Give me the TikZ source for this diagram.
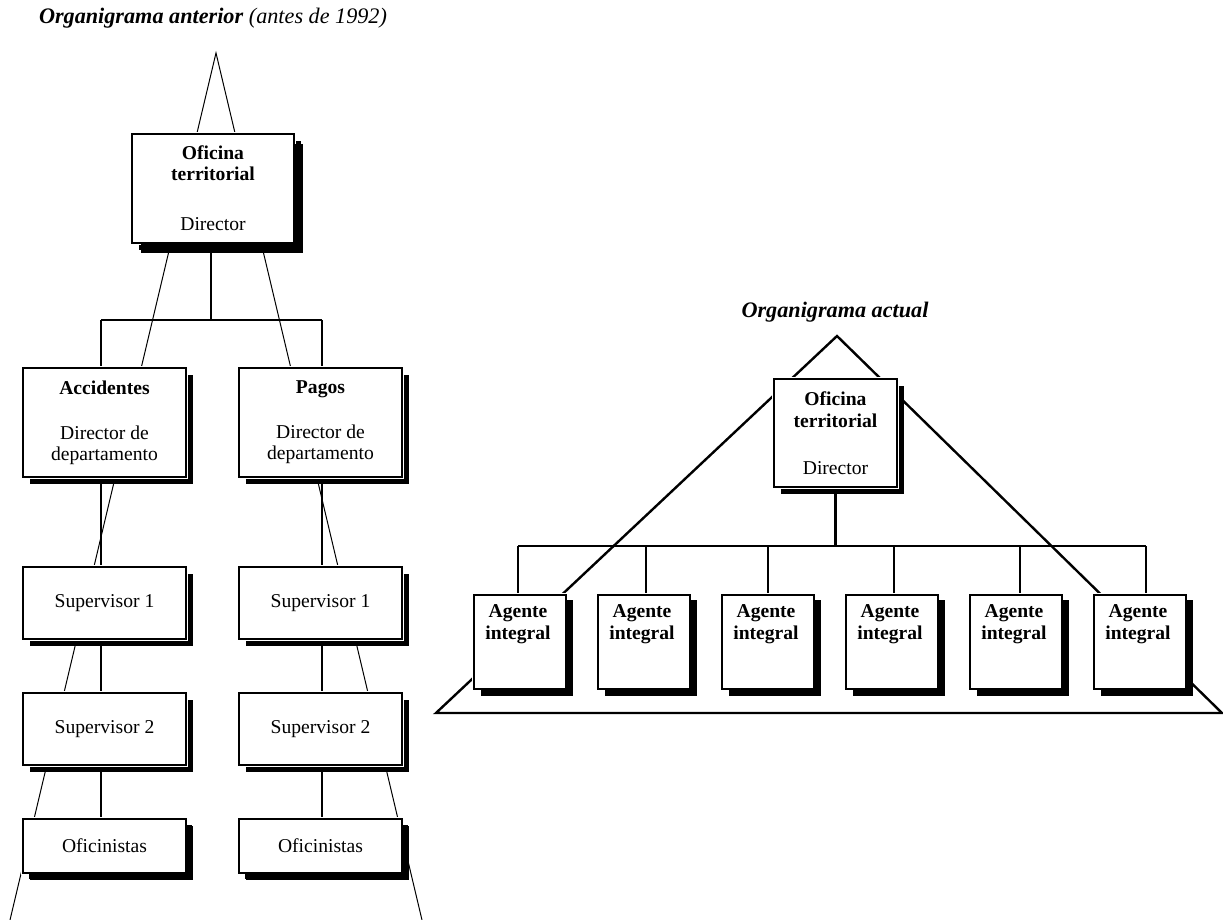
\documentclass[tikz,border=0pt]{standalone}
\usepackage{fontspec}
\setmainfont{Liberation Serif}
\usetikzlibrary{shadows,backgrounds}
\begin{document}
\begin{tikzpicture}[x=0.5pt,y=-0.5pt,
  box/.style={draw=black, line width=1pt, fill=white, inner sep=0pt, outer sep=0pt,
    align=center, font=\fontsize{9.8}{10.5}\selectfont,
    general shadow={fill=black, shadow xshift=3.5pt, shadow yshift=-3.5pt},
    preaction={draw=white, line width=2.4pt}},
  bigbox/.style={box, general shadow={fill=black, shadow xshift=4.5pt, shadow yshift=-5pt}},
  agbox/.style={box, line width=1.1pt, minimum width=46pt, minimum height=47pt},
  lbox/.style={box, minimum width=81.5pt},
  boxtext/.style={inner sep=0pt, align=center, font=\fontsize{9.8}{11}\selectfont\bfseries},
  title/.style={inner sep=0pt, font=\fontsize{11.1}{13}\selectfont},
  thin/.style={line width=0.5pt},
  connL/.style={line width=1pt},
  connR/.style={line width=1.3pt},
  tri/.style={line width=1.2pt, line join=miter}
]
\useasboundingbox (0,0) rectangle (1223,920);

% ---------- left chart ----------
\node[title] (t1) at (213,18) {\textbf{\textit{Organigrama anterior}} \textit{(antes de 1992)}};

\node[bigbox, minimum width=81pt, minimum height=54.5pt] (ofL) at (213,188.5)
  {\textbf{Oficina}\\\textbf{territorial}\\[14.5pt]Director};
\node[lbox, minimum height=54.5pt] (acc) at (104.5,422.5)
  {\textbf{Accidentes}\\[12pt]Director de\\departamento};
\node[lbox, minimum height=54.5pt] (pag) at (320.5,422.5)
  {\textbf{Pagos}\\[12pt]Director de\\departamento};
\node[lbox, minimum height=36pt] (s1a) at (104.5,603) {Supervisor 1};
\node[lbox, minimum height=36pt] (s1b) at (320.5,603) {Supervisor 1};
\node[lbox, minimum height=36pt] (s2a) at (104.5,729) {Supervisor 2};
\node[lbox, minimum height=36pt] (s2b) at (320.5,729) {Supervisor 2};
\node[lbox, minimum height=27pt, general shadow={fill=black, shadow xshift=3pt, shadow yshift=-2.8pt}] (ofa) at (104.5,846) {Oficinistas};
\node[lbox, minimum height=27pt, general shadow={fill=black, shadow xshift=3pt, shadow yshift=-2.8pt}] (ofb) at (320.5,846) {Oficinistas};

\coordinate (apexL) at (216,53);
\coordinate (footLL) at (10,920);
\coordinate (footLR) at (422,920);
\coordinate (lm) at (211,320);
\coordinate (lb1) at (101,320);
\coordinate (lb2) at (322,320);

% ---------- right chart ----------
\node[title] (t2) at (835,312) {\textbf{\textit{Organigrama actual}}};

\node[box, minimum width=61.5pt, minimum height=54pt] (ofR) at (835.5,433)
  {\textbf{Oficina}\\[0.5pt]\textbf{territorial}\\[13pt]Director};

\node[agbox, general shadow={fill=black, shadow xshift=3.5pt, shadow yshift=-2.7pt}] (a1) at (520,642) {};
\node[agbox, general shadow={fill=black, shadow xshift=3.5pt, shadow yshift=-2.7pt}] (a2) at (644,642) {};
\node[agbox, general shadow={fill=black, shadow xshift=3.5pt, shadow yshift=-2.7pt}] (a3) at (768,642) {};
\node[agbox, general shadow={fill=black, shadow xshift=3.5pt, shadow yshift=-2.7pt}] (a4) at (892,642) {};
\node[agbox, general shadow={fill=black, shadow xshift=3.5pt, shadow yshift=-2.7pt}] (a5) at (1016,642) {};
\node[agbox, general shadow={fill=black, shadow xshift=3.5pt, shadow yshift=-2.7pt}] (a6) at (1140,642) {};
\foreach \i in {1,...,6}{
  \node[boxtext, anchor=north] (ta\i) at ([xshift=-1pt,yshift=-4.5pt]a\i.north) {Agente\\integral};
}

\coordinate (apexR) at (837,336);
\coordinate (footRL) at (436,713);
\coordinate (footRR) at (1222,713);
\coordinate (d1) at (518,546);
\coordinate (d2) at (646,546);
\coordinate (d3) at (768,546);
\coordinate (d4) at (894,546);
\coordinate (d5) at (1020,546);
\coordinate (d6) at (1146,546);

\begin{pgfonlayer}{background}
  % left pyramid
  \draw[thin] (footLL) -- (apexL) -- (footLR);
  % left connectors
  \draw[connL] (lm |- ofL.south) -- (lm);
  \draw[connL] (lb1) -- (lb2);
  \draw[connL] (lb1) -- (lb1 |- acc.north);
  \draw[connL] (lb2) -- (lb2 |- pag.north);
  \draw[connL] (lb1 |- acc.south) -- (lb1 |- s1a.north);
  \draw[connL] (lb2 |- pag.south) -- (lb2 |- s1b.north);
  \draw[connL] (lb1 |- s1a.south) -- (lb1 |- s2a.north);
  \draw[connL] (lb2 |- s1b.south) -- (lb2 |- s2b.north);
  \draw[connL] (lb1 |- s2a.south) -- (lb1 |- ofa.north);
  \draw[connL] (lb2 |- s2b.south) -- (lb2 |- ofb.north);
  % right pyramid
  \draw[tri] (footRL) -- (apexR) -- (footRR) -- cycle;
  % right connectors
  \draw[connR] (ofR.south) -- (ofR.south |- d1);
  \draw[connR] (d1) -- (d6);
  \foreach \i in {1,...,6}{
    \draw[connR] (d\i) -- (d\i |- a\i.north);
  }
\end{pgfonlayer}
\end{tikzpicture}
\end{document}
